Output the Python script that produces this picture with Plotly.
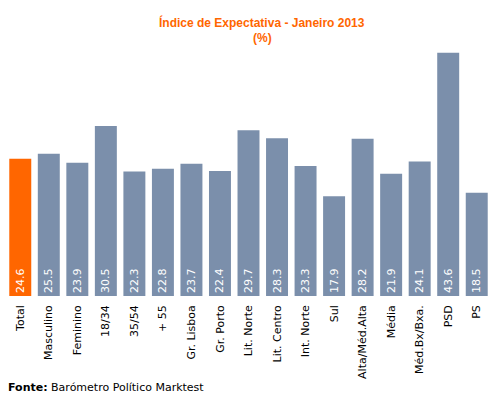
import plotly.graph_objects as go

categories = ["Total", "Masculino", "Feminino", "18/34", "35/54", "+ 55", "Gr. Lisboa",
              "Gr. Porto", "Lit. Norte", "Lit. Centro", "Int. Norte", "Sul",
              "Alta/Méd.Alta", "Média", "Méd.Bx/Bxa.", "PSD", "PS"]
values = [24.6, 25.5, 23.9, 30.5, 22.3, 22.8, 23.7, 22.4, 29.7, 28.3, 23.3, 17.9,
          28.2, 21.9, 24.1, 43.6, 18.5]
colors = ["#FF6600"] + ["#7B8FAB"] * (len(categories) - 1)

W, H = 494, 399
ML, MR, MT, MB = 6, 3, 45, 103
plot_h = H - MT - MB
plot_w = W - ML - MR

def py(ypix):
    return (H - MB - ypix) / plot_h

def px(xpix):
    return (xpix - ML) / plot_w

fig = go.Figure(go.Bar(
    x=categories, y=values,
    marker=dict(color=colors, line=dict(width=0)),
    text=[f"{v:.1f}" for v in values],
    textposition="inside", insidetextanchor="start", textangle=-90,
    textfont=dict(color="white", size=11, family="DejaVu Sans"),
    cliponaxis=False,
))

fig.update_layout(
    width=W, height=H,
    margin=dict(l=ML, r=MR, t=MT, b=MB, autoexpand=False),
    paper_bgcolor="white", plot_bgcolor="white",
    bargap=0.23,
    showlegend=False,
    xaxis=dict(tickangle=-90, tickfont=dict(size=11, family="DejaVu Sans", color="black"),
               showline=False, ticks="", showgrid=False, automargin=False,
               ticklabelstandoff=6),
    yaxis=dict(range=[0, 45], visible=False, showgrid=False, automargin=False),
    annotations=[
        dict(text="<b>Índice de Expectativa - Janeiro 2013</b>", x=px(262), y=py(22),
             xref="paper", yref="paper", showarrow=False, yanchor="middle",
             font=dict(size=12, color="#FF6600", family="Liberation Sans")),
        dict(text="<b>(%)</b>", x=px(262), y=py(38), xref="paper", yref="paper",
             showarrow=False, yanchor="middle",
             font=dict(size=12, color="#FF6600", family="Liberation Sans")),
        dict(text="<b>Fonte:</b> Barómetro Político Marktest", x=px(6), y=py(387),
             xref="paper", yref="paper", showarrow=False, xanchor="left", yanchor="middle",
             font=dict(size=11, color="black", family="DejaVu Sans")),
    ],
)

fig.write_html("out.html", config={"displayModeBar": False},
               post_script="document.body.style.margin='0px';document.body.style.overflow='hidden';")
